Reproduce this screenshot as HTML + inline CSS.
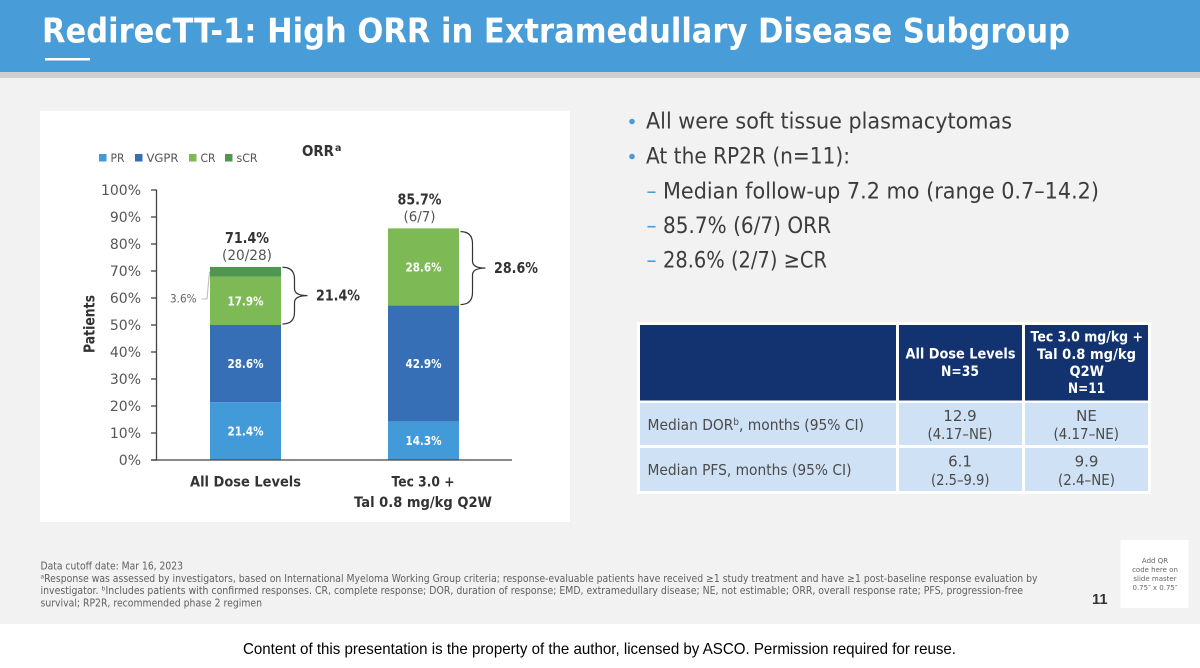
<!DOCTYPE html>
<html lang="en">
<head>
<meta charset="utf-8">
<title>RedirecTT-1: High ORR in Extramedullary Disease Subgroup</title>
<style>
html,body{margin:0;padding:0;background:#fff;width:1200px;height:668px;overflow:hidden}
svg{display:block}
text{font-family:"DejaVu Sans","Liberation Sans",sans-serif}
.b{font-weight:700}
.ls{font-family:"Liberation Sans",sans-serif}
.body{font-size:22.5px;fill:#3c3c3c}
.dash{font-size:22.5px;fill:#489cd8}
.th{font-size:14.5px;font-weight:700;fill:#fff}
.td{font-size:15px;fill:#4a4a4a}
.fn{font-size:10.5px;fill:#606060}
.qr{font-size:7px;fill:#666}
</style>
</head>
<body>
<svg id="slide" xmlns="http://www.w3.org/2000/svg" width="1200" height="668" viewBox="0 0 1200 668">
  <rect x="0" y="0" width="1200" height="624" fill="#f2f2f2"/>
  <rect x="0" y="624" width="1200" height="44" fill="#ffffff"/>
  <rect x="0" y="0" width="1200" height="72" fill="#489cd8"/>
  <rect x="0" y="72" width="1200" height="6" fill="#cfcfcf"/>
  <text class="b" x="42" y="42.5" font-size="34" fill="#fff" textLength="1028" lengthAdjust="spacingAndGlyphs">RedirecTT-1: High ORR in Extramedullary Disease Subgroup</text>
  <rect x="45" y="58" width="45" height="2.5" fill="#fff"/>

  <rect x="40" y="111" width="530" height="411" fill="#fff"/>
  <g id="chart"></g>

  <g>
    <circle cx="632" cy="121.5" r="2.8" fill="#489cd8"/>
    <text class="body" x="646" y="128.5" textLength="366" lengthAdjust="spacingAndGlyphs">All were soft tissue plasmacytomas</text>
    <circle cx="632" cy="156.5" r="2.8" fill="#489cd8"/>
    <text class="body" x="646" y="163.5" textLength="204" lengthAdjust="spacingAndGlyphs">At the RP2R (n=11):</text>
    <text class="dash" x="646.5" y="198.5" textLength="10" lengthAdjust="spacingAndGlyphs">–</text>
    <text class="body" x="663" y="198.5" textLength="436" lengthAdjust="spacingAndGlyphs">Median follow-up 7.2 mo (range 0.7–14.2)</text>
    <text class="dash" x="646.5" y="233" textLength="10" lengthAdjust="spacingAndGlyphs">–</text>
    <text class="body" x="663" y="233" textLength="168" lengthAdjust="spacingAndGlyphs">85.7% (6/7) ORR</text>
    <text class="dash" x="646.5" y="267.5" textLength="10" lengthAdjust="spacingAndGlyphs">–</text>
    <text class="body" x="663" y="267.5" textLength="164" lengthAdjust="spacingAndGlyphs">28.6% (2/7) ≥CR</text>
  </g>

  <g>
    <rect x="637" y="322" width="514" height="172" fill="#fff"/>
    <rect x="640" y="325" width="256" height="75.5" fill="#12336f"/>
    <rect x="899" y="325" width="123" height="75.5" fill="#12336f"/>
    <rect x="1025" y="325" width="123" height="75.5" fill="#12336f"/>
    <rect x="640" y="403" width="256" height="42" fill="#cfe2f5"/>
    <rect x="899" y="403" width="123" height="42" fill="#cfe2f5"/>
    <rect x="1025" y="403" width="123" height="42" fill="#cfe2f5"/>
    <rect x="640" y="448" width="256" height="43" fill="#cfe2f5"/>
    <rect x="899" y="448" width="123" height="43" fill="#cfe2f5"/>
    <rect x="1025" y="448" width="123" height="43" fill="#cfe2f5"/>

    <text class="th" x="905.5" y="358.5" textLength="110" lengthAdjust="spacingAndGlyphs">All Dose Levels</text>
    <text class="th" x="941" y="376" textLength="38" lengthAdjust="spacingAndGlyphs">N=35</text>
    <text class="th" x="1030.5" y="341.5" textLength="112.5" lengthAdjust="spacingAndGlyphs">Tec 3.0 mg/kg +</text>
    <text class="th" x="1037" y="359" textLength="99" lengthAdjust="spacingAndGlyphs">Tal 0.8 mg/kg</text>
    <text class="th" x="1069.5" y="376" textLength="34.5" lengthAdjust="spacingAndGlyphs">Q2W</text>
    <text class="th" x="1068" y="393" textLength="37" lengthAdjust="spacingAndGlyphs">N=11</text>

    <text class="td" x="647.5" y="430" textLength="216.5" lengthAdjust="spacingAndGlyphs">Median DOR<tspan font-size="9.5" dy="-5">b</tspan><tspan dy="5">, months (95% CI)</tspan></text>
    <text class="td" x="960" y="421" text-anchor="middle">12.9</text>
    <text class="td" x="927.5" y="439" textLength="65" lengthAdjust="spacingAndGlyphs">(4.17–NE)</text>
    <text class="td" x="1086.5" y="421" text-anchor="middle">NE</text>
    <text class="td" x="1053.5" y="439" textLength="65.5" lengthAdjust="spacingAndGlyphs">(4.17–NE)</text>
    <text class="td" x="647.5" y="475" textLength="204" lengthAdjust="spacingAndGlyphs">Median PFS, months (95% CI)</text>
    <text class="td" x="960" y="466.5" text-anchor="middle">6.1</text>
    <text class="td" x="931" y="485" textLength="58.5" lengthAdjust="spacingAndGlyphs">(2.5–9.9)</text>
    <text class="td" x="1086.5" y="466.5" text-anchor="middle">9.9</text>
    <text class="td" x="1058" y="485" textLength="57" lengthAdjust="spacingAndGlyphs">(2.4–NE)</text>
  </g>

  <g>
    <text class="fn" x="40.5" y="569.5" textLength="142.5" lengthAdjust="spacingAndGlyphs">Data cutoff date: Mar 16, 2023</text>
    <text class="fn" x="40.5" y="582" textLength="997" lengthAdjust="spacingAndGlyphs">ᵃResponse was assessed by investigators, based on International Myeloma Working Group criteria; response-evaluable patients have received ≥1 study treatment and have ≥1 post-baseline response evaluation by</text>
    <text class="fn" x="40.5" y="594" textLength="982.5" lengthAdjust="spacingAndGlyphs">investigator. ᵇIncludes patients with confirmed responses. CR, complete response; DOR, duration of response; EMD, extramedullary disease; NE, not estimable; ORR, overall response rate; PFS, progression-free</text>
    <text class="fn" x="40.5" y="606.5" textLength="221.5" lengthAdjust="spacingAndGlyphs">survival; RP2R, recommended phase 2 regimen</text>
  </g>

  <text class="ls b" x="1092" y="604" font-size="15" fill="#333" textLength="15.5" lengthAdjust="spacingAndGlyphs">11</text>
  <g>
    <rect x="1120.5" y="540" width="68" height="68" fill="#fff"/>
    <text class="qr" x="1155" y="563" text-anchor="middle">Add QR</text>
    <text class="qr" x="1155" y="572" text-anchor="middle">code here on</text>
    <text class="qr" x="1155" y="581" text-anchor="middle">slide master</text>
    <text class="qr" x="1155" y="590" text-anchor="middle">0.75″ x 0.75″</text>
  </g>
  <text class="ls" x="243" y="654" font-size="16" fill="#000" textLength="713" lengthAdjust="spacingAndGlyphs">Content of this presentation is the property of the author, licensed by ASCO. Permission required for reuse.</text>
</svg>

<script>
var categories = ["All Dose Levels", "Tec 3.0 +|Tal 0.8 mg/kg Q2W"];
var seriesNames = ["PR", "VGPR", "CR", "sCR"];
var prValues = [21.4, 14.3];
var vgprValues = [28.6, 42.9];
var crValues = [17.9, 28.6];
var scrValues = [3.6, 0];
var totalValues = [71.4, 85.7];
var totalCounts = ["(20/28)", "(6/7)"];
var bracketValues = [21.4, 28.6];
var yTicks = [0, 10, 20, 30, 40, 50, 60, 70, 80, 90, 100];

var seriesColors = ["#439ad9", "#366fb5", "#7dba56", "#4f9650"];
var seriesValues = [prValues, vgprValues, crValues, scrValues];

var NS = "http://www.w3.org/2000/svg";
var chart = document.getElementById("chart");

function yPos(v) { return 460 - 2.7 * v; }
function xCenter(i) { return 245.5 + 178 * i; }
var barW = 71;

function mk(tag, attrs, txt) {
  var el = document.createElementNS(NS, tag);
  for (var k in attrs) el.setAttribute(k, attrs[k]);
  if (txt !== undefined) el.textContent = txt;
  chart.appendChild(el);
  return el;
}

/* title */
var orrTitle = mk("text", {x: 302, y: 156, "font-size": 15, "font-weight": 700, fill: "#333", textLength: 32, lengthAdjust: "spacingAndGlyphs"}, "ORR");


var orrSup = mk("text", {x: 335, y: 151, "font-size": 9.5, "font-weight": 700, fill: "#333"}, "a");



/* legend */
var legendSwatchX = [99, 135, 189, 225];
var legendTextWidths = [14, 32, 15, 21];
seriesNames.forEach(function (name, i) {
  var sw = mk("rect", {x: legendSwatchX[i], y: 154, width: 7.5, height: 7.5, fill: seriesColors[i]});
  
  
  var lab = mk("text", {x: legendSwatchX[i] + 11.5, y: 162, "font-size": 11.5, fill: "#555", textLength: legendTextWidths[i], lengthAdjust: "spacingAndGlyphs"}, name);
  
  
});

/* y ticks */
yTicks.forEach(function (t) {
  var tick = mk("line", {x1: 151, x2: 156.5, y1: yPos(t), y2: yPos(t), stroke: "#444", "stroke-width": 1.3});
  
  
  var lab = mk("text", {x: 141, y: yPos(t) + 5, "text-anchor": "end", "font-size": 14, fill: "#555"}, t + "%");
  
  
});

/* y title */
var yTitle = mk("text", {transform: "translate(94.5 324) rotate(-90)", "text-anchor": "middle", "font-size": 15, "font-weight": 700, fill: "#333", textLength: 58, lengthAdjust: "spacingAndGlyphs"}, "Patients");



/* bars */
categories.forEach(function (cat, i) {
  var base = 0;
  seriesValues.forEach(function (vals, s) {
    var v = vals[i];
    if (!v) return;
    var bar = mk("rect", {x: xCenter(i) - barW / 2, y: yPos(base + v), width: barW, height: yPos(base) - yPos(base + v), fill: seriesColors[s]});
    
    
    if (v > 5) {
      var lab = mk("text", {x: xCenter(i), y: yPos(base + v / 2) + 4.5, "text-anchor": "middle", "font-size": 12.5, "font-weight": 700, fill: "#fff", textLength: 36, lengthAdjust: "spacingAndGlyphs"}, v.toFixed(1) + "%");
      
      
    }
    base += v;
  });

  /* totals */
  var cx = xCenter(i) + (i ? -4 : 1.5);
  var topY = yPos(totalValues[i]);
  var tot = mk("text", {x: cx, y: topY - 24, "text-anchor": "middle", "font-size": 15, "font-weight": 700, fill: "#333", textLength: 44, lengthAdjust: "spacingAndGlyphs"}, totalValues[i].toFixed(1) + "%");
  
  
  var cnt = mk("text", {x: cx, y: topY - 7, "text-anchor": "middle", "font-size": 14.5, fill: "#555", textLength: i ? 32 : 50, lengthAdjust: "spacingAndGlyphs"}, totalCounts[i]);
  
  

  /* bracket around >=CR */
  var x0 = xCenter(i) + barW / 2 + 1.5;
  var xm = x0 + 12;
  var xt = x0 + 25;
  var y0 = topY + (i ? 3 : 0);
  var y1 = yPos(prValues[i] + vgprValues[i]) - 1;
  var ym = (y0 + y1) / 2;
  var br = mk("path", {d: "M" + x0 + " " + y0 + "Q" + xm + " " + y0 + " " + xm + " " + (y0 + 12) + "L" + xm + " " + (ym - 7) + "Q" + xm + " " + ym + " " + xt + " " + ym + "Q" + xm + " " + ym + " " + xm + " " + (ym + 7) + "L" + xm + " " + (y1 - 12) + "Q" + xm + " " + y1 + " " + x0 + " " + y1, fill: "none", stroke: "#333", "stroke-width": 1.2});
  
  
  var bl = mk("text", {x: xt + 8.5, y: ym + 5, "font-size": 15, "font-weight": 700, fill: "#333", textLength: 44, lengthAdjust: "spacingAndGlyphs"}, bracketValues[i].toFixed(1) + "%");
  
  

  /* category labels */
  cat.split("|").forEach(function (line, li) {
    var cl = mk("text", {x: xCenter(i) - (i ? 0.5 : 0), y: 486.5 + li * 20.5, "text-anchor": "middle", "font-size": 14.5, "font-weight": 700, fill: "#333", textLength: i ? (li ? 138 : 63) : 111, lengthAdjust: "spacingAndGlyphs"}, line);
    
    
  });
});

/* sCR callout on first bar */
var scrMid = yPos(prValues[0] + vgprValues[0] + crValues[0] + scrValues[0] / 2);
var leader = mk("path", {d: "M201.5 299L207 299L209.5 " + scrMid, fill: "none", stroke: "#bdbdbd", "stroke-width": 1.1});


var callout = mk("text", {x: 170, y: 302.5, "font-size": 11.5, fill: "#666", textLength: 26.5, lengthAdjust: "spacingAndGlyphs"}, scrValues[0].toFixed(1) + "%");



/* axes on top */
var yAxis = mk("line", {x1: 156.5, x2: 156.5, y1: yPos(100) - 0.5, y2: yPos(0) + 0.7, stroke: "#444", "stroke-width": 1.3});


var xAxis = mk("line", {x1: 151, x2: 512, y1: yPos(0), y2: yPos(0), stroke: "#444", "stroke-width": 1.3});


</script>
</body>
</html>
